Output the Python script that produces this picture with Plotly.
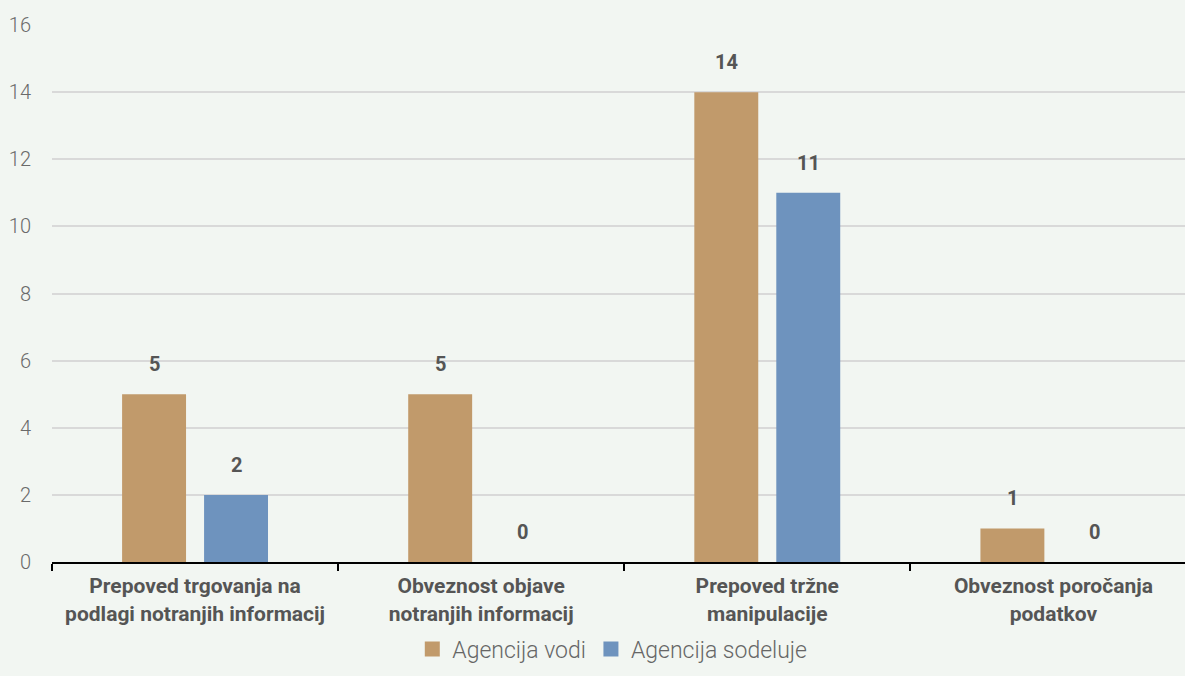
import plotly.graph_objects as go

categories = ["Prepoved trgovanja na<br>podlagi notranjih informacij",
              "Obveznost objave<br>notranjih informacij",
              "Prepoved tržne<br>manipulacije",
              "Obveznost poročanja<br>podatkov"]
series_names = ["Agencija vodi", "Agencija sodeluje"]
vodi = [5, 5, 14, 1]
sodeluje = [2, 0, 11, 0]
colors = ["#C19A6B", "#6E93BE"]
y_ticks = [0, 2, 4, 6, 8, 10, 12, 14, 16]

bg = "#F2F6F2"
fig = go.Figure()
for name, vals, col in zip(series_names, [vodi, sodeluje], colors):
    fig.add_trace(go.Bar(x=categories, y=vals, name=name, marker_color=col,
                         marker_line_width=0, showlegend=False))
# legend entries with larger square swatches
for name, col in zip(series_names, colors):
    fig.add_trace(go.Scatter(x=[None], y=[None], mode="markers", name=name,
                             marker=dict(symbol="square", size=15, color=col)))

slot_px = 82
for i, vals in enumerate([vodi, sodeluje]):
    shift = -slot_px / 2 if i == 0 else slot_px / 2
    for c, v in zip(categories, vals):
        fig.add_annotation(x=c, y=v, xref="x", yref="y", text=str(v), showarrow=False,
                           xshift=shift, yshift=16, yanchor="bottom",
                           font=dict(family="Roboto", size=20, color="#555555", weight="bold"))

fig.update_layout(
    width=1185, height=676,
    paper_bgcolor=bg, plot_bgcolor=bg,
    margin=dict(l=52, r=0, t=25, b=114),
    barmode="group", bargap=0.427, bargroupgap=0.22,
    font=dict(family="Roboto", color="#666666"),
    legend=dict(orientation="h", x=0.318, xanchor="left", y=-0.122, yanchor="top",
                font=dict(size=23, color="#666666", weight=300),
                tracegroupgap=0),
    showlegend=True,
)
fig.update_xaxes(range=[-0.5, 3.46], showline=True, linecolor="#000000", linewidth=2,
                 ticks="outside", tickson="boundaries", ticklen=7, tickcolor="#000000",
                 tickwidth=2, showgrid=False, ticklabelstandoff=4,
                 tickfont=dict(size=21, color="#555555", weight="bold"))
fig.update_yaxes(range=[0, 16], tickvals=y_ticks, showgrid=True, gridcolor="#D9D9D9",
                 gridwidth=2, zeroline=False, showline=False, ticklabelstandoff=20,
                 tickfont=dict(size=20, color="#6A6A6A", weight=300))

fig.write_html("out.html", post_script="document.body.style.margin='0';",
               config={"displayModeBar": False})
